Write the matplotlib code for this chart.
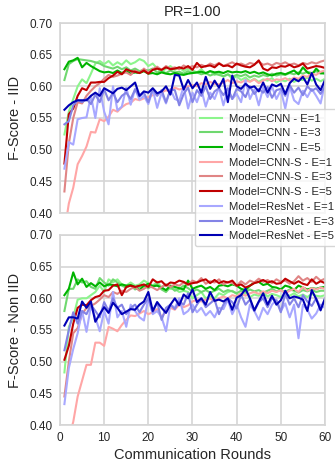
import matplotlib
matplotlib.use("Agg")
import matplotlib.pyplot as plt
import numpy as np

# ---------------- data ----------------
rounds = list(range(1, 61))

iid_cnn_e1 = [.524, .560, .580, .600, .611, .605, .620, .636, .640, .635,
              .640, .633, .638, .634, .641, .635, .638, .643, .640, .632,
              .636, .628, .623, .628, .632, .626, .630, .624, .628, .625,
              .622, .627, .620, .624, .618, .622, .615, .619, .612, .616,
              .610, .614, .608, .612, .607, .611, .609, .613, .606, .610,
              .608, .612, .607, .611, .610, .614, .609, .612, .608, .612]
iid_cnn_e3 = [.610, .635, .640, .643, .642, .641, .640, .638, .636, .632,
              .630, .628, .631, .627, .630, .625, .628, .624, .626, .625,
              .628, .622, .624, .621, .625, .622, .623, .620, .624, .621,
              .622, .619, .621, .617, .620, .618, .616, .619, .615, .618,
              .616, .619, .614, .617, .615, .618, .616, .620, .617, .619,
              .618, .621, .619, .622, .620, .623, .621, .624, .620, .622]
iid_cnn_e5 = [.627, .639, .641, .645, .630, .637, .632, .628, .624, .622,
              .623, .621, .625, .621, .624, .620, .622, .621, .624, .620,
              .621, .619, .622, .620, .619, .621, .619, .618, .620, .621,
              .622, .623, .621, .624, .622, .623, .621, .624, .622, .623,
              .622, .624, .621, .623, .620, .622, .619, .617, .620, .621,
              .619, .622, .625, .619, .630, .622, .618, .628, .621, .620]
iid_cnns_e1 = [.370, .415, .440, .477, .490, .505, .528, .527, .548, .545,
               .552, .563, .560, .567, .572, .574, .580, .578, .581, .583,
               .586, .588, .590, .594, .591, .598, .595, .597, .600, .602,
               .600, .605, .603, .607, .604, .603, .606, .610, .605, .608,
               .606, .610, .607, .611, .605, .609, .612, .608, .611, .610,
               .613, .609, .614, .612, .617, .615, .620, .618, .623, .625]
iid_cnns_e3 = [.434, .510, .550, .575, .573, .585, .593, .600, .605, .612,
               .618, .615, .617, .620, .622, .618, .625, .621, .628, .622,
               .627, .631, .626, .632, .628, .630, .627, .633, .629, .632,
               .630, .634, .631, .636, .633, .637, .632, .635, .638, .634,
               .636, .633, .637, .635, .639, .634, .636, .633, .637, .635,
               .638, .634, .636, .633, .637, .635, .638, .636, .639, .641]
iid_cnns_e5 = [.478, .556, .565, .585, .597, .594, .606, .606, .607, .607,
               .613, .617, .623, .619, .627, .624, .623, .621, .625, .620,
               .626, .628, .626, .630, .627, .628, .630, .628, .632, .626,
               .637, .630, .632, .633, .630, .636, .632, .633, .630, .636,
               .633, .631, .630, .634, .641, .628, .625, .630, .629, .632,
               .631, .634, .630, .632, .636, .628, .630, .632, .631, .629]
iid_res_e1 = [.470, .512, .508, .548, .550, .551, .585, .550, .597, .560,
              .540, .600, .562, .568, .598, .571, .596, .579, .585, .572,
              .595, .566, .590, .573, .595, .580, .577, .600, .565, .590,
              .575, .595, .568, .590, .580, .598, .570, .596, .580, .588,
              .575, .610, .580, .595, .570, .598, .583, .600, .580, .594,
              .565, .600, .578, .572, .593, .583, .596, .585, .573, .605]
iid_res_e3 = [.540, .545, .570, .578, .575, .580, .572, .587, .575, .595,
              .578, .590, .575, .585, .590, .580, .595, .584, .590, .575,
              .596, .585, .594, .575, .595, .594, .570, .588, .598, .575,
              .594, .585, .600, .580, .592, .597, .586, .597, .580, .596,
              .592, .583, .600, .588, .596, .590, .599, .582, .594, .596,
              .585, .602, .590, .598, .586, .600, .593, .597, .588, .600]
iid_res_e5 = [.563, .570, .575, .578, .578, .578, .585, .590, .585, .597,
              .593, .589, .596, .598, .594, .600, .606, .585, .592, .590,
              .597, .589, .592, .600, .587, .618, .617, .595, .610, .597,
              .606, .590, .615, .596, .609, .598, .612, .575, .617, .600,
              .596, .604, .598, .600, .592, .606, .590, .603, .600, .604,
              .588, .605, .612, .608, .615, .603, .621, .603, .594, .610]

nid_cnn_e1 = [.483, .555, .570, .598, .600, .600, .605, .610, .620, .610,
              .630, .625, .630, .622, .620, .625, .620, .622, .628, .624,
              .620, .626, .617, .622, .615, .615, .610, .612, .610, .600,
              .605, .610, .600, .603, .600, .608, .605, .610, .612, .607,
              .603, .608, .602, .606, .604, .609, .603, .607, .605, .602,
              .606, .604, .608, .603, .606, .602, .607, .604, .603, .605]
nid_cnn_e3 = [.580, .615, .615, .630, .625, .627, .618, .615, .632, .625,
              .620, .630, .625, .620, .617, .621, .614, .618, .620, .616,
              .620, .622, .614, .610, .618, .612, .615, .620, .616, .611,
              .614, .610, .613, .609, .612, .615, .610, .613, .611, .608,
              .612, .610, .614, .611, .613, .609, .612, .615, .611, .613,
              .610, .614, .612, .609, .613, .611, .614, .610, .612, .612]
nid_cnn_e5 = [.605, .615, .641, .622, .631, .618, .624, .619, .625, .619,
              .622, .621, .619, .622, .620, .621, .618, .613, .620, .623,
              .619, .620, .617, .613, .620, .618, .616, .614, .628, .615,
              .618, .620, .615, .618, .613, .620, .621, .619, .622, .620,
              .615, .613, .620, .625, .626, .621, .623, .618, .617, .614,
              .620, .618, .613, .620, .617, .614, .616, .615, .617, .618]
nid_cnns_e1 = [.360, .380, .405, .445, .470, .495, .495, .530, .530, .525,
               .555, .552, .548, .558, .566, .573, .572, .576, .580, .575,
               .578, .583, .570, .580, .585, .582, .590, .586, .589, .595,
               .598, .595, .598, .600, .595, .600, .603, .600, .605, .603,
               .608, .604, .608, .610, .607, .611, .608, .612, .610, .613,
               .608, .612, .615, .610, .618, .612, .616, .614, .617, .615]
nid_cnns_e3 = [.445, .500, .545, .553, .575, .585, .588, .592, .598, .605,
               .602, .610, .607, .612, .610, .615, .618, .612, .615, .620,
               .617, .613, .618, .622, .618, .622, .620, .625, .621, .628,
               .625, .632, .623, .627, .625, .630, .622, .626, .624, .620,
               .627, .622, .628, .625, .631, .626, .629, .624, .630, .626,
               .628, .623, .627, .635, .628, .632, .626, .634, .628, .631]
nid_cnns_e5 = [.503, .525, .560, .585, .590, .589, .597, .602, .604, .612,
               .613, .620, .622, .605, .618, .620, .618, .620, .622, .618,
               .630, .625, .627, .620, .625, .624, .628, .626, .622, .624,
               .625, .628, .630, .624, .629, .624, .627, .625, .628, .620,
               .622, .617, .620, .624, .626, .629, .625, .627, .623, .624,
               .631, .627, .623, .627, .623, .621, .630, .623, .627, .624]
nid_res_e1 = [.433, .490, .520, .545, .580, .547, .588, .570, .548, .580,
              .560, .610, .570, .580, .555, .590, .580, .570, .565, .600,
              .575, .580, .570, .548, .590, .585, .600, .575, .580, .590,
              .578, .585, .573, .580, .570, .585, .583, .598, .575, .590,
              .570, .555, .590, .580, .566, .585, .575, .590, .598, .580,
              .592, .570, .590, .537, .590, .582, .568, .576, .590, .585]
nid_res_e3 = [.518, .550, .578, .560, .580, .575, .590, .580, .570, .594,
              .580, .600, .585, .590, .575, .585, .590, .578, .590, .600,
              .578, .594, .566, .585, .590, .583, .595, .590, .608, .578,
              .590, .600, .586, .592, .598, .575, .590, .600, .594, .584,
              .606, .590, .598, .580, .594, .600, .586, .600, .596, .578,
              .608, .590, .600, .586, .605, .595, .588, .600, .585, .598]
nid_res_e5 = [.557, .570, .570, .568, .595, .585, .595, .563, .575, .586,
              .577, .593, .585, .575, .579, .583, .582, .590, .595, .610,
              .580, .594, .585, .577, .590, .600, .589, .606, .600, .614,
              .594, .600, .590, .610, .596, .598, .595, .600, .582, .601,
              .605, .615, .600, .581, .595, .608, .590, .604, .590, .597,
              .612, .600, .603, .601, .598, .580, .613, .599, .581, .600]

labels = ["Model=CNN - E=1", "Model=CNN - E=3", "Model=CNN - E=5",
          "Model=CNN-S - E=1", "Model=CNN-S - E=3", "Model=CNN-S - E=5",
          "Model=ResNet - E=1", "Model=ResNet - E=3", "Model=ResNet - E=5"]
iid_series = [iid_cnn_e1, iid_cnn_e3, iid_cnn_e5, iid_cnns_e1, iid_cnns_e3,
              iid_cnns_e5, iid_res_e1, iid_res_e3, iid_res_e5]
nid_series = [nid_cnn_e1, nid_cnn_e3, nid_cnn_e5, nid_cnns_e1, nid_cnns_e3,
              nid_cnns_e5, nid_res_e1, nid_res_e3, nid_res_e5]
colors = ["#8cf58c", "#6fd86f", "#00b400",
          "#ffa6a6", "#e08585", "#c00000",
          "#a8a8ff", "#8383e6", "#0000b4"]

# ---------------- style ----------------
plt.rcParams['font.family'] = ['Liberation Sans', 'DejaVu Sans']
grid_c = "#d5d5d5"

fig = plt.figure(figsize=(3.35, 4.68), dpi=100)
W, H = 335, 468
ax1 = fig.add_axes([60 / W, 1 - 213 / H, 265 / W, 190 / H])
ax2 = fig.add_axes([60 / W, 1 - 425 / H, 265 / W, 190 / H])

for ax, series, ylab in [(ax1, iid_series, "F-Score - IID"),
                         (ax2, nid_series, "F-Score - Non IID")]:
    for s, c, lab in zip(series, colors, labels):
        ax.plot(rounds, s, color=c, lw=1.5, label=lab)
    ax.set_xlim(0, 60)
    ax.set_ylim(0.40, 0.70)
    ax.set_yticks(np.arange(0.40, 0.7001, 0.05))
    ax.set_yticklabels([f"{v:.2f}" for v in np.arange(0.40, 0.7001, 0.05)])
    ax.set_xticks(range(0, 61, 10))
    ax.grid(True, color=grid_c, lw=1.2)
    ax.set_axisbelow(True)
    for sp in ax.spines.values():
        sp.set_color(grid_c)
        sp.set_linewidth(1.2)
    ax.tick_params(length=0, labelsize=8.5, colors="#262626", pad=5)
    ax.set_ylabel(ylab, fontsize=10.5, color="#262626", labelpad=6)

ax1.tick_params(labelbottom=False)
ax1.set_title("PR=1.00", fontsize=10.5, color="#262626", pad=5)
ax2.set_xlabel("Communication Rounds", fontsize=10.5, color="#262626", labelpad=3)

handles, labs = ax1.get_legend_handles_labels()
leg = fig.legend(handles, labs, loc="upper left",
                 bbox_to_anchor=(195 / W, 1 - 109 / H),
                 fontsize=8.1, labelspacing=0.42, handlelength=2.0,
                 handletextpad=0.65, borderpad=0.4, frameon=True,
                 fancybox=True, framealpha=0.8, borderaxespad=0)
leg.get_frame().set_edgecolor("#cccccc")
for t in leg.get_texts():
    t.set_color("#262626")

fig.savefig("out.png", dpi=100)
